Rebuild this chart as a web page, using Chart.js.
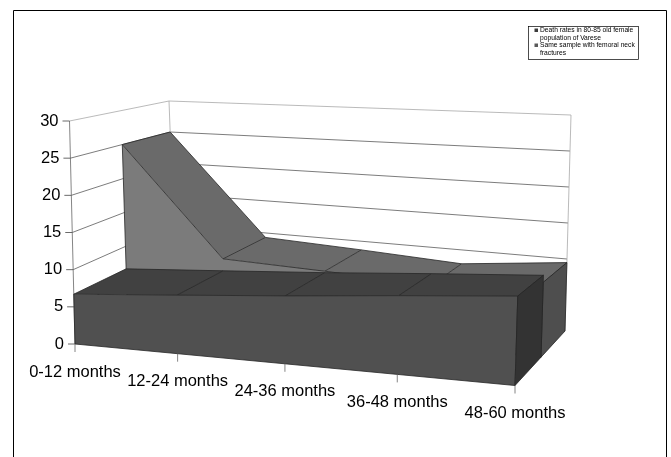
<!DOCTYPE html>
<html>
<head>
<meta charset="utf-8">
<title>Death rates</title>
<script src="https://cdn.jsdelivr.net/npm/chart.js@4"></script>
<style>
    html, body { margin: 0; padding: 0; background: #fff; }
    canvas { display: block; }
</style>
</head>
<body>
<canvas id="deathChart" width="671" height="457"></canvas>
<script>
const categories = ['0-12 months', '12-24 months', '24-36 months', '36-48 months', '48-60 months'];
const seriesNames = ['Death rates in 80-85 old female population of Varese', 'Same sample with femoral neck fractures'];
const frontValues = [6.7, 7.6, 8.5, 9.5, 10.4];
const backValues = [25, 9.3, 8.7, 8, 9.5];
const legendLines = [
    ['Death rates in 80-85 old female', 'population of Varese'],
    ['Same sample with femoral neck', 'fractures']
];

// corners of the 3D box, order: front-left, front-right, back-right, back-left
const floorQuad = [[75, 344], [515, 385.5], [565, 331], [176, 287]];
const topQuad = [[69.5, 121], [523, 127.5], [571, 115], [169, 101]];
const slabSplit = 0.52;
const perspective = 0.096;

function mapQuad(q, u, w) {
    const k = u / (1 + perspective * (1 - u));
    const fx = q[0][0] + (q[1][0] - q[0][0]) * k, fy = q[0][1] + (q[1][1] - q[0][1]) * k;
    const bx = q[3][0] + (q[2][0] - q[3][0]) * k, by = q[3][1] + (q[2][1] - q[3][1]) * k;
    return [fx + (bx - fx) * w, fy + (by - fy) * w];
}

function project(u, w, t) {
    const a = mapQuad(floorQuad, u, w), b = mapQuad(topQuad, u, w);
    return [a[0] + (b[0] - a[0]) * t, a[1] + (b[1] - a[1]) * t];
}

function poly(ctx, pts, fill, stroke) {
    ctx.beginPath();
    pts.forEach(function (p, i) { if (i === 0) ctx.moveTo(p[0], p[1]); else ctx.lineTo(p[0], p[1]); });
    ctx.closePath();
    if (fill) { ctx.fillStyle = fill; ctx.fill(); }
    if (stroke) { ctx.strokeStyle = stroke; ctx.lineWidth = 0.8; ctx.stroke(); }
}

function seg(ctx, a, b, color, width) {
    ctx.beginPath();
    ctx.moveTo(a[0], a[1]);
    ctx.lineTo(b[0], b[1]);
    ctx.strokeStyle = color;
    ctx.lineWidth = width || 1;
    ctx.stroke();
}

// draws one series as a slab between two depths, from the points the scales placed
function drawSlab(chart, index, w0, w1, colors) {
    const area = chart.chartArea;
    const pts = chart.getDatasetMeta(index).data.map(function (p) {
        return { u: (p.x - area.left) / area.width, t: (area.bottom - p.y) / area.height };
    });
    const ctx = chart.ctx;
    const edge = '#262626';
    const last = pts[pts.length - 1];
    for (let i = 0; i < pts.length - 1; i++) {
        const a = pts[i], b = pts[i + 1];
        poly(ctx, [project(a.u, w0, a.t), project(b.u, w0, b.t), project(b.u, w1, b.t), project(a.u, w1, a.t)], colors.top, null);
        seg(ctx, project(a.u, w1, a.t), project(b.u, w1, b.t), edge, 0.8);
    }
    pts.forEach(function (p) {
        seg(ctx, project(p.u, w0, p.t), project(p.u, w1, p.t), edge, 0.8);
    });
    const front = pts.map(function (p) { return project(p.u, w0, p.t); });
    poly(ctx, front.concat([project(1, w0, 0), project(0, w0, 0)]), colors.front, edge);
    poly(ctx, [project(1, w0, 0), project(1, w1, 0), project(1, w1, last.t), project(1, w0, last.t)], colors.side, edge);
}

const box3d = {
    id: 'box3d',
    afterDatasetsDraw: function (chart) {
        const ctx = chart.ctx;
        const y = chart.scales.y, x = chart.scales.x;
        const area = chart.chartArea;
        ctx.save();

        // outer frame, open at the bottom
        ctx.beginPath();
        ctx.moveTo(13.5, 457);
        ctx.lineTo(13.5, 10.5);
        ctx.lineTo(666.5, 10.5);
        ctx.lineTo(666.5, 457);
        ctx.strokeStyle = '#000';
        ctx.lineWidth = 1;
        ctx.stroke();

        // gridlines on both walls
        y.ticks.forEach(function (tick) {
            const t = (area.bottom - y.getPixelForValue(tick.value)) / area.height;
            const color = tick.value === 30 ? '#a8a8a8' : '#5a5a5a';
            seg(ctx, project(0, 0, t), project(0, 1, t), color, 0.8);
            seg(ctx, project(0, 1, t), project(1, 1, t), color, 0.8);
        });
        seg(ctx, project(0, 1, 0), project(0, 1, 1), '#a8a8a8', 0.8);
        seg(ctx, project(1, 1, 0), project(1, 1, 1), '#a8a8a8', 0.8);
        seg(ctx, project(0, 0, 0), project(0, 0, 1), '#666', 0.8);

        drawSlab(chart, 1, slabSplit, 1, { top: '#6a6a6a', front: '#7b7b7b', side: '#4e4e4e' });
        drawSlab(chart, 0, 0, slabSplit, { top: '#414141', front: '#505050', side: '#333333' });

        // value axis ticks and labels
        ctx.fillStyle = '#000';
        ctx.font = '16.5px "Liberation Sans", Arial, sans-serif';
        ctx.textBaseline = 'middle';
        y.ticks.forEach(function (tick) {
            const t = (area.bottom - y.getPixelForValue(tick.value)) / area.height;
            const p = project(0, 0, t);
            seg(ctx, [p[0] - 7, p[1]], p, '#444', 0.8);
            ctx.textAlign = 'right';
            ctx.fillText(tick.label, p[0] - 11, p[1]);
        });

        // category ticks and labels
        ctx.textAlign = 'center';
        categories.forEach(function (name, i) {
            const u = (x.getPixelForValue(i) - area.left) / area.width;
            const p = project(u, 0, 0);
            seg(ctx, p, [p[0], p[1] + 8], '#666', 0.8);
            ctx.fillStyle = '#000';
            ctx.fillText(name, p[0], p[1] + 28);
        });

        // legend box
        ctx.fillStyle = '#fff';
        ctx.fillRect(528.5, 26.5, 110, 33);
        ctx.strokeStyle = '#000';
        ctx.lineWidth = 0.7;
        ctx.strokeRect(528.5, 26.5, 110, 33);
        ctx.font = '6.7px "Liberation Sans", Arial, sans-serif';
        ctx.textAlign = 'left';
        const swatch = ['#3c3c3c', '#5a5a5a'];
        let rowY = 30.5;
        legendLines.forEach(function (lines, i) {
            ctx.fillStyle = swatch[i];
            ctx.fillRect(534.5, rowY - 2, 3.5, 3.5);
            ctx.fillStyle = '#000';
            lines.forEach(function (line) {
                ctx.fillText(line, 540, rowY);
                rowY += 7.5;
            });
        });
        ctx.restore();
    }
};

new Chart(document.getElementById('deathChart').getContext('2d'), {
    type: 'line',
    data: {
        labels: categories,
        datasets: [
            { label: seriesNames[0], data: frontValues, showLine: false, pointRadius: 0 },
            { label: seriesNames[1], data: backValues, showLine: false, pointRadius: 0 }
        ]
    },
    options: {
        responsive: false,
        animation: false,
        layout: { padding: { left: 75, right: 156, top: 121, bottom: 113 } },
        plugins: { legend: { display: false }, tooltip: { enabled: false } },
        scales: {
            x: { display: false },
            y: { display: false, min: 0, max: 30, ticks: { stepSize: 5 } }
        }
    },
    plugins: [box3d]
});
</script>
</body>
</html>
